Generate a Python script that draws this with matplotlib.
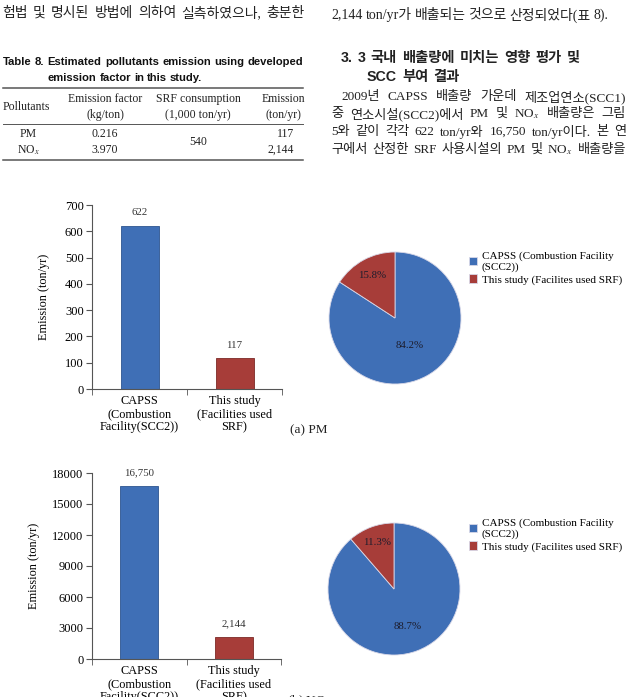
import matplotlib
matplotlib.use("Agg")
import matplotlib.pyplot as plt
import numpy as np

plt.rcParams['font.family'] = ['Liberation Serif', 'Noto Sans CJK KR']
plt.rcParams['mathtext.fontset'] = 'stix'

# chart data
categories = ["CAPSS\n(Combustion\nFacility(SCC2))", "This study\n(Facilities used\nSRF)"]
pm_emission = [622, 117]
nox_emission = [16750, 2144]
pie_labels = ["CAPSS (Combustion Facility\n(SCC2))", "This study (Facilites used SRF)"]
pm_ticks = [0, 100, 200, 300, 400, 500, 600, 700]
nox_ticks = [0, 3000, 6000, 9000, 12000, 15000, 18000]

# table 8 data
tbl_pollutants = ["PM", "NO$_x$"]
tbl_factor = ["0.216", "3.970"]
tbl_consumption = "540"
tbl_emission = ["117", "2,144"]

blue = '#3f6fb6'
red = '#a73d39'
W, H = 628, 697

fig = plt.figure(figsize=(W / 100, H / 100), dpi=100)
renderer = fig.canvas.get_renderer()


def P(x, y):
    return x / W, 1 - y / H


def put_line(words, x0, y, x1=None, gap=3.5, **kw):
    texts = [fig.text(0, 0, w, va='center', ha='left', **kw) for w in words]
    widths = [t.get_window_extent(renderer).width for t in texts]
    if x1 is not None and len(words) > 1:
        gap = (x1 - x0 - sum(widths)) / (len(words) - 1)
    x = x0
    for t, w in zip(texts, widths):
        t.set_position(P(x, y))
        x += w + gap


body = dict(fontsize=10, family=['Liberation Serif', 'Noto Sans CJK KR'], color='#222222')
para = dict(body, fontsize=9.5)
head = dict(fontsize=10.3, family=['Liberation Sans', 'Noto Sans CJK KR'], weight='bold', color='#222222')

# ---- page text ----
put_line("험법 및 명시된 방법에 의하여 실측하였으나, 충분한".split(), 2, 13, 305, **body)
put_line("2,144 ton/yr가 배출되는 것으로 산정되었다(표 8).".split(), 331, 15, gap=3, **body)
put_line("3. 3 국내 배출량에 미치는 영향 평가 및".split(), 341, 58, gap=5, **head)
put_line("SCC 부여 결과".split(), 367, 77, gap=5, **head)
put_line("2009년 CAPSS 배출량 가운데 제조업연소(SCC1)".split(), 341, 97, 626, **para)
put_line("중 연소시설(SCC2)에서 PM 및 NO$_x$ 배출량은 그림".split(), 331, 114, 626, **para)
put_line("5와 같이 각각 622 ton/yr와 16,750 ton/yr이다. 본 연".split(), 331, 132, 626, **para)
put_line("구에서 산정한 SRF 사용시설의 PM 및 NO$_x$ 배출량을".split(), 331, 150, 626, **para)

# ---- table 8 ----
tt = dict(fontsize=8.15, family='Liberation Sans', weight='bold', color='#111111')
put_line("Table 8. Estimated pollutants emission using developed".split(), 3, 62, 303, **tt)
put_line("emission factor in this study.".split(), 48, 78, gap=2.8, **tt)

for y, lw in [(88, 1.1), (124, 0.7), (160, 1.1)]:
    fig.add_artist(plt.Line2D([3 / W, 303 / W], [1 - y / H] * 2, lw=lw, color='#555555'))

tb = dict(fontsize=8.5, color='#222222', va='center')
fig.text(*P(26, 107), "Pollutants", ha='center', **tb)
fig.text(*P(105, 99), "Emission factor", ha='center', **tb)
fig.text(*P(105, 115), "(kg/ton)", ha='center', **tb)
fig.text(*P(198, 99), "SRF consumption", ha='center', **tb)
fig.text(*P(198, 115), "(1,000 ton/yr)", ha='center', **tb)
fig.text(*P(283, 99), "Emission", ha='center', **tb)
fig.text(*P(283, 115), "(ton/yr)", ha='center', **tb)
for i, y in enumerate([134, 150]):
    fig.text(*P(28, y), tbl_pollutants[i], ha='center', **tb)
    fig.text(*P(105, y), tbl_factor[i], ha='center', **tb)
    fig.text(*P(294, y), tbl_emission[i], ha='right', **tb)
fig.text(*P(198, 142), tbl_consumption, ha='center', **tb)


# ---- charts ----
def bar_chart(rect, values, ticks, label_x):
    ax = fig.add_axes(rect)
    x = np.arange(len(values))
    bars = ax.bar(x, values, width=0.4, color=[blue, red],
                  edgecolor=['#2d548f', '#7d2a27'], linewidth=0.6)
    ax.bar_label(bars, labels=[f"{v:,}" for v in values], padding=6, fontsize=7.8, color='#333333')
    ax.set_xlim(-0.5, len(values) - 0.5)
    ax.set_ylim(ticks[0], ticks[-1])
    ax.set_yticks(ticks)
    ax.set_xticks(x)
    ax.set_xticklabels(categories, fontsize=8.8, linespacing=1.15)
    ax.set_xticks(np.arange(-0.5, len(values)), minor=True)
    ax.tick_params(axis='x', which='major', length=0, pad=4)
    ax.tick_params(axis='x', which='minor', length=4, direction='out', color='#555555')
    ax.tick_params(axis='y', length=4, direction='out', labelsize=9, color='#555555', pad=2)
    for s in ['top', 'right']:
        ax.spines[s].set_visible(False)
    for s in ['left', 'bottom']:
        ax.spines[s].set_color('#555555')
        ax.spines[s].set_linewidth(0.8)
    ax.set_ylabel("Emission (ton/yr)", fontsize=8.8)
    ax.yaxis.set_label_coords(label_x, 0.5)
    return ax


def pie_chart(rect, values, legend_top):
    ax = fig.add_axes(rect)
    wedges, _, autotexts = ax.pie(values, colors=[blue, red], startangle=90, counterclock=False,
                                  autopct='%.1f%%', wedgeprops=dict(edgecolor='#d8d8e8', linewidth=0.6),
                                  textprops=dict(fontsize=7.8, color='#1c1c2c'))
    dists = [0.47, 0.74] if values[1] / sum(values) > 0.13 else [0.6, 0.75]
    for w, t, d in zip(wedges, autotexts, dists):
        th = np.deg2rad((w.theta1 + w.theta2) / 2)
        t.set_position((d * np.cos(th), d * np.sin(th)))
    ax.set_xlim(-1.0, 1.0)
    ax.set_ylim(-1.0, 1.0)
    ax.legend(wedges, pie_labels, loc='upper left', bbox_to_anchor=P(469, legend_top),
              bbox_transform=fig.transFigure, frameon=False, fontsize=8,
              handlelength=0.75, handleheight=0.75, handletextpad=0.4,
              labelspacing=0.25, borderpad=0, borderaxespad=0)
    return ax


bar_chart([92 / W, 1 - 389 / H, 190 / W, 184 / H], pm_emission, pm_ticks, -0.22)
pie_chart([329 / W, 1 - 384 / H, 132 / W, 132 / H], pm_emission, 251)
fig.text(*P(290, 430), "(a) PM", fontsize=9.5, va='center', color='#222222')

bar_chart([92 / W, 1 - 659 / H, 189 / W, 186 / H], nox_emission, nox_ticks, -0.275)
pie_chart([328 / W, 1 - 655 / H, 132 / W, 132 / H], nox_emission, 518)
fig.text(*P(287, 701), "(b) NO$_x$", fontsize=9.5, va='center', color='#222222')

fig.savefig("out.png", dpi=100)
